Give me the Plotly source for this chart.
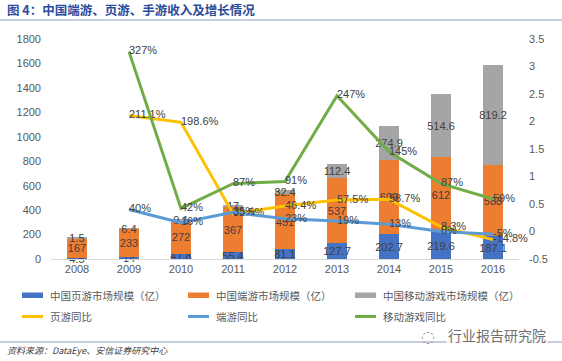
import plotly.graph_objects as go

years = ["2008", "2009", "2010", "2011", "2012", "2013", "2014", "2015", "2016"]
page_games = [4.5, 14, 41.8, 55.4, 81.1, 127.7, 202.7, 219.6, 187.1]
client_games = [167, 233, 272, 367, 451, 537, 609, 612, 583]
mobile_games = [1.5, 6.4, 9.1, 17, 32.4, 112.4, 274.9, 514.6, 819.2]

growth_years = ["2009", "2010", "2011", "2012", "2013", "2014", "2015", "2016"]
page_yoy = [2.111, 1.986, 0.325, 0.464, 0.575, 0.587, 0.083, -0.148]
page_yoy_lbl = ["211.1%", "198.6%", "32.5%", "46.4%", "57.5%", "58.7%", "8.3%", "-14.8%"]
client_yoy = [0.40, 0.16, 0.35, 0.23, 0.19, 0.13, 0.00, -0.05]
client_yoy_lbl = ["40%", "16%", "35%", "23%", "19%", "13%", "0%", "-5%"]
mobile_yoy = [3.27, 0.42, 0.87, 0.91, 2.47, 1.45, 0.87, 0.59]
mobile_yoy_lbl = ["327%", "42%", "87%", "91%", "247%", "145%", "87%", "59%"]

left_ticks = [0, 200, 400, 600, 800, 1000, 1200, 1400, 1600, 1800]
right_ticks = [-0.5, 0, 0.5, 1, 1.5, 2, 2.5, 3, 3.5]
right_ticktext = ["-0.5", "0", "0.5", "1", "1.5", "2", "2.5", "3", "3.5"]

names = ["中国页游市场规模（亿）", "中国端游市场规模（亿）", "中国移动游戏市场规模（亿）",
         "页游同比", "端游同比", "移动游戏同比"]

C_BLUE = "#4472C4"
C_ORANGE = "#ED7D31"
C_GRAY = "#A5A5A5"
C_YELLOW = "#FFC000"
C_LBLUE = "#5B9BD5"
C_GREEN = "#70AD47"
TXT = "#404040"
AX = "#595959"
NUMFONT = "Liberation Sans"
CJK = "Noto Sans CJK SC"

fig = go.Figure()

for vals, col, nm in [(page_games, C_BLUE, names[0]),
                      (client_games, C_ORANGE, names[1]),
                      (mobile_games, C_GRAY, names[2])]:
    fig.add_trace(go.Bar(
        x=years, y=vals, name=nm, marker=dict(color=col, line=dict(width=0)),
        text=[f"{v:g}" for v in vals], textposition="inside",
        insidetextanchor="middle", constraintext="none", textangle=0,
        textfont=dict(color=TXT, size=11, family=NUMFONT),
        cliponaxis=False, showlegend=False))

for vals, lbl, col, nm in [(page_yoy, page_yoy_lbl, C_YELLOW, names[3]),
                           (client_yoy, client_yoy_lbl, C_LBLUE, names[4]),
                           (mobile_yoy, mobile_yoy_lbl, C_GREEN, names[5])]:
    fig.add_trace(go.Scatter(
        x=growth_years, y=vals, yaxis="y2", mode="lines+text", name=nm,
        line=dict(color=col, width=3), text=lbl, textposition="middle right",
        textfont=dict(color=TXT, size=11, family=NUMFONT),
        cliponaxis=False, showlegend=False))

shapes = []
annotations = []


def px(x):
    return (x - 51) / 468


def py(y):
    return (259 - y) / 220


# title and rule
annotations.append(dict(xref="paper", yref="paper", x=px(5), y=py(10),
                        xanchor="left", yanchor="middle", showarrow=False,
                        text="<b>图 4：中国端游、页游、手游收入及增长情况</b>",
                        font=dict(family=CJK, size=12.5, color="#2B4C9B")))
shapes.append(dict(type="line", xref="paper", yref="paper",
                   x0=px(0), x1=px(562), y0=py(20), y1=py(20),
                   line=dict(color="#B4BED4", width=1.5)))

# manual legend
leg_x = [22, 188, 355]
leg_cols_bar = [C_BLUE, C_ORANGE, C_GRAY]
leg_cols_line = [C_YELLOW, C_LBLUE, C_GREEN]
for i in range(3):
    shapes.append(dict(type="rect", xref="paper", yref="paper",
                       x0=px(leg_x[i]), x1=px(leg_x[i] + 21), y0=py(298), y1=py(292.5),
                       fillcolor=leg_cols_bar[i], line=dict(width=0)))
    annotations.append(dict(xref="paper", yref="paper", x=px(leg_x[i] + 26), y=py(295.5),
                            xanchor="left", yanchor="middle", showarrow=False,
                            text=names[i], font=dict(family=CJK, size=10.5, color=AX)))
    shapes.append(dict(type="line", xref="paper", yref="paper",
                       x0=px(leg_x[i]), x1=px(leg_x[i] + 21), y0=py(316.5), y1=py(316.5),
                       line=dict(color=leg_cols_line[i], width=3)))
    annotations.append(dict(xref="paper", yref="paper", x=px(leg_x[i] + 26), y=py(316.5),
                            xanchor="left", yanchor="middle", showarrow=False,
                            text=names[i + 3], font=dict(family=CJK, size=10.5, color=AX)))

# footer
shapes.append(dict(type="line", xref="paper", yref="paper",
                   x0=px(0), x1=px(562), y0=py(342), y1=py(342),
                   line=dict(color="#8C9BC0", width=1)))
annotations.append(dict(xref="paper", yref="paper", x=px(5), y=py(350),
                        xanchor="left", yanchor="middle", showarrow=False,
                        text="<i>资料来源：DataEye、安信证券研究中心</i>",
                        font=dict(family=CJK, size=9, color="#404040")))
annotations.append(dict(xref="paper", yref="paper", x=px(446), y=py(335),
                        xanchor="left", yanchor="middle", showarrow=False,
                        text="行业报告研究院", bgcolor="rgba(255,255,255,0.85)",
                        font=dict(family=CJK, size=14, color="#707070")))
annotations.append(dict(xref="paper", yref="paper", x=px(428), y=py(336),
                        xanchor="center", yanchor="middle", showarrow=False,
                        text="◌", font=dict(family="DejaVu Sans", size=16, color="#9A9A9A")))

fig.update_layout(
    width=562, height=361,
    margin=dict(l=51, r=43, t=39, b=102, pad=0),
    paper_bgcolor="white", plot_bgcolor="white",
    barmode="stack", bargap=0.6,
    font=dict(family=NUMFONT, size=11, color=AX),
    xaxis=dict(type="category", showgrid=False, showline=True, linecolor="#D9D9D9",
               linewidth=1, ticks="", tickfont=dict(size=11, color=AX, family=NUMFONT),
               zeroline=False),
    yaxis=dict(range=[0, 1800], tickvals=left_ticks, showgrid=False, zeroline=False,
               showline=False, ticks="", ticklabelstandoff=9,
               tickfont=dict(size=11, color=AX, family=NUMFONT)),
    yaxis2=dict(range=[-0.5, 3.5], tickvals=right_ticks, ticktext=right_ticktext,
                overlaying="y", side="right", showgrid=False, zeroline=False,
                showline=False, ticks="", ticklabelstandoff=9,
                tickfont=dict(size=11, color=AX, family=NUMFONT)),
    shapes=shapes, annotations=annotations, showlegend=False,
)

fig.write_html("out.html", config={"displayModeBar": False},
               post_script="document.body.style.margin='0';document.body.style.padding='0';")
